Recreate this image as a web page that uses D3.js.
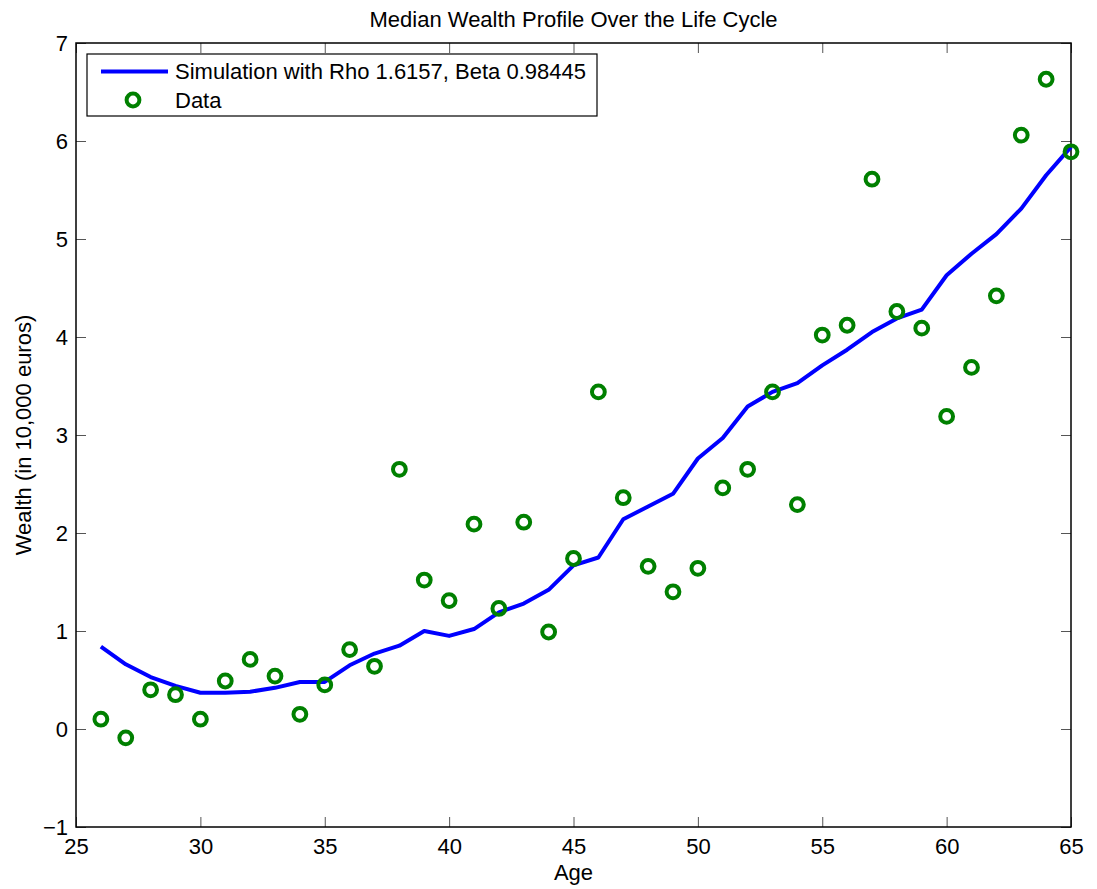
<!DOCTYPE html>
<html>
<head>
<meta charset="utf-8">
<script src="https://cdn.jsdelivr.net/npm/d3@7"></script>
<style>
  body { margin: 0; background: #fff; }
  svg text { font-family: "Liberation Sans", Arial, sans-serif; fill: #000; }
</style>
</head>
<body>
<div id="chart"></div>
<script>
// dati
const ages = d3.range(26, 66);
const simulation = [0.84, 0.66, 0.53, 0.44, 0.37, 0.37, 0.38, 0.42, 0.48, 0.48,
  0.65, 0.77, 0.85, 1.00, 0.95, 1.02, 1.19, 1.28, 1.42, 1.67,
  1.75, 2.14, 2.27, 2.40, 2.76, 2.97, 3.29, 3.44, 3.53, 3.71,
  3.87, 4.05, 4.19, 4.28, 4.63, 4.85, 5.05, 5.31, 5.65, 5.94];
const dataPoints = [0.10, -0.09, 0.40, 0.35, 0.10, 0.49, 0.71, 0.54, 0.15, 0.45,
  0.81, 0.64, 2.65, 1.52, 1.31, 2.09, 1.23, 2.11, 0.99, 1.74,
  3.44, 2.36, 1.66, 1.40, 1.64, 2.46, 2.65, 3.44, 2.29, 4.02,
  4.12, 5.61, 4.26, 4.09, 3.19, 3.69, 4.42, 6.06, 6.63, 5.89];
const xTicks = [25, 30, 35, 40, 45, 50, 55, 60, 65];
const yTicks = [-1, 0, 1, 2, 3, 4, 5, 6, 7];
const legendLabels = ["Simulation with Rho 1.6157, Beta 0.98445", "Data"];

const width = 1097, height = 889;
const margin = { top: 43, right: 26, bottom: 62, left: 76 };
const innerW = width - margin.left - margin.right;
const innerH = height - margin.top - margin.bottom;
const fontSize = "22px";

const svg = d3.select("#chart").append("svg")
  .attr("width", width)
  .attr("height", height);

const x = d3.scaleLinear().domain([25, 65]).range([0, innerW]);
const y = d3.scaleLinear().domain([-1, 7]).range([innerH, 0]);

const g = svg.append("g").attr("transform", `translate(${margin.left},${margin.top})`);

// assi con tick interni (stile matlab)
const tickLen = 10;
const axisStyle = sel => {
  sel.select(".domain").remove();
  sel.selectAll(".tick line").attr("stroke", "#555").attr("stroke-width", 1);
  sel.selectAll(".tick text").style("font-size", fontSize);
};

g.append("g")
  .attr("transform", `translate(0,${innerH})`)
  .call(d3.axisBottom(x).tickValues(xTicks).tickSize(-tickLen).tickPadding(11).tickFormat(d3.format("d")))
  .call(axisStyle);

g.append("g")
  .call(d3.axisTop(x).tickValues(xTicks).tickSize(-tickLen).tickFormat(""))
  .call(axisStyle);

g.append("g")
  .call(d3.axisLeft(y).tickValues(yTicks).tickSize(-tickLen).tickPadding(8).tickFormat(d => d < 0 ? "\u2212" + Math.abs(d) : d))
  .call(axisStyle);

g.append("g")
  .attr("transform", `translate(${innerW},0)`)
  .call(d3.axisRight(y).tickValues(yTicks).tickSize(-tickLen).tickFormat(""))
  .call(axisStyle);

// cornice
g.append("rect")
  .attr("width", innerW)
  .attr("height", innerH)
  .attr("fill", "none")
  .attr("stroke", "#000")
  .attr("stroke-width", 1.5);

// linea della simulazione
const line = d3.line()
  .x((d, i) => x(ages[i]))
  .y(d => y(d));

g.append("path")
  .datum(simulation)
  .attr("d", line)
  .attr("fill", "none")
  .attr("stroke", "#0000ff")
  .attr("stroke-width", 4)
  .attr("stroke-linejoin", "round");

// cerchi dei dati
g.append("g")
  .selectAll("circle")
  .data(dataPoints)
  .enter()
  .append("circle")
  .attr("cx", (d, i) => x(ages[i]))
  .attr("cy", d => y(d))
  .attr("r", 6.4)
  .attr("fill", "none")
  .attr("stroke", "#008000")
  .attr("stroke-width", 4);

// titolo ed etichette
svg.append("text")
  .attr("x", margin.left + innerW / 2)
  .attr("y", 27)
  .attr("text-anchor", "middle")
  .style("font-size", fontSize)
  .text("Median Wealth Profile Over the Life Cycle");

svg.append("text")
  .attr("x", margin.left + innerW / 2)
  .attr("y", 880)
  .attr("text-anchor", "middle")
  .style("font-size", fontSize)
  .text("Age");

svg.append("text")
  .attr("transform", `translate(31,${margin.top + innerH / 2}) rotate(-90)`)
  .attr("text-anchor", "middle")
  .style("font-size", fontSize)
  .text("Wealth (in 10,000 euros)");

// legenda
const legend = svg.append("g").attr("transform", "translate(87,54)");
legend.append("rect")
  .attr("width", 510)
  .attr("height", 62)
  .attr("fill", "#fff")
  .attr("stroke", "#000")
  .attr("stroke-width", 1.2);

legend.append("line")
  .attr("x1", 14).attr("x2", 81)
  .attr("y1", 17.5).attr("y2", 17.5)
  .attr("stroke", "#0000ff")
  .attr("stroke-width", 4);

legend.append("circle")
  .attr("cx", 46).attr("cy", 46)
  .attr("r", 6.4)
  .attr("fill", "none")
  .attr("stroke", "#008000")
  .attr("stroke-width", 4);

legend.selectAll("text.lbl")
  .data(legendLabels)
  .enter()
  .append("text")
  .attr("class", "lbl")
  .attr("x", 88)
  .attr("y", (d, i) => 25 + i * 29)
  .style("font-size", fontSize)
  .text(d => d);
</script>
</body>
</html>
